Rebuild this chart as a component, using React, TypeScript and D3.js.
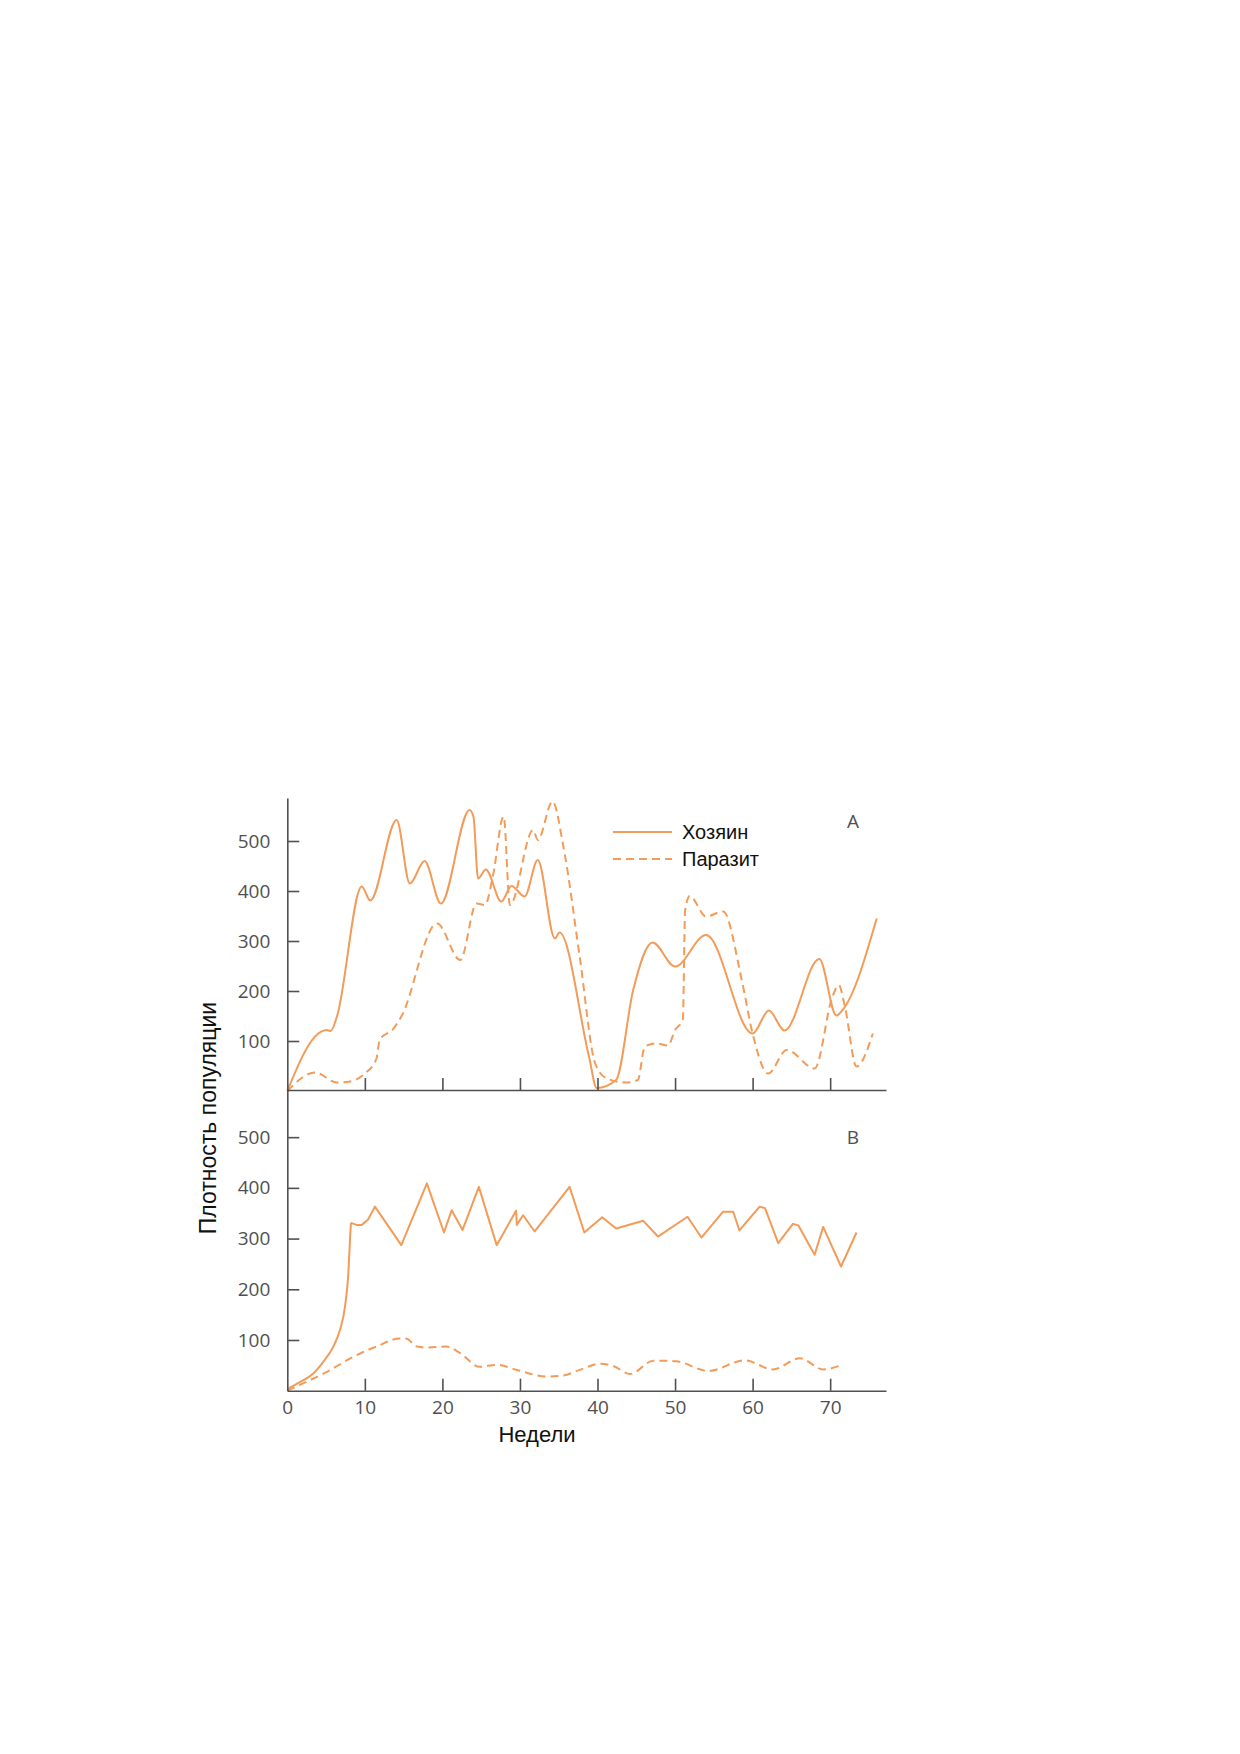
import { useEffect, useRef } from "react";
import * as d3 from "d3";

// Panel A (unstable system)
const hostAWeeks = [0, 4, 5.1, 5.6, 6.4, 9.6, 10.7, 14.1, 15.8, 17.7, 19.8, 23.5, 24.0, 24.6, 25.6, 27.6, 28.9, 30.6, 32.3, 34.5, 35.1, 38.9, 39.9, 42.4, 44.6, 47.1, 50, 54, 60, 62.1, 64.1, 68.6, 70.8, 71.6, 76];
const hostAValues = [0, 115, 122, 120, 149, 409, 381, 542, 415, 460, 375, 562, 549, 425, 443, 379, 410, 389, 462, 305, 317, 69, 6, 22, 202, 297, 249, 312, 115, 161, 121, 264, 151, 162, 345];

const parasiteAWeeks = [0, 3.6, 6.4, 8.1, 10, 11.5, 11.9, 13.7, 14.7, 19.3, 22.3, 24.4, 25.5, 26.5, 27.9, 28.7, 31.7, 32.3, 34.2, 35.6, 37.7, 39.7, 41.2, 43.7, 45.2, 46.1, 47.6, 49.1, 50, 51, 51.3, 51.9, 54, 56.2, 58.6, 60, 62, 64.4, 68, 70.3, 71.1, 71.9, 73.4, 75.5];
const parasiteAValues = [0, 37, 17, 19, 35, 65, 102, 125, 149, 335, 262, 375, 372, 429, 549, 372, 522, 502, 579, 489, 269, 55, 25, 17, 22, 89, 95, 91, 122, 142, 362, 390, 349, 359, 222, 115, 35, 82, 45, 189, 212, 169, 49, 115];

// Panel B (stable system): smooth early growth, then jagged plateau
const hostBRiseWeeks = [0, 1.5, 3.35, 4.64, 5.93, 6.8, 7.44, 7.87, 8.08, 8.2];
const hostBRiseValues = [3, 16, 34, 57, 87, 120, 166, 231, 297, 331];
const hostBWeeks = [8.2, 8.94, 9.6, 10.4, 11.3, 14.7, 18, 20.2, 21.2, 22.6, 24.7, 27, 29.5, 29.6, 30.4, 31.9, 36.4, 38.3, 40.6, 42.4, 45.9, 47.8, 51.6, 53.4, 56.2, 57.5, 58.3, 60.9, 61.6, 63.3, 65.2, 65.9, 68, 69.1, 71.4, 73.4];
const hostBValues = [331, 327, 327, 337, 363, 287, 409, 312, 356, 317, 402, 287, 355, 327, 346, 314, 402, 312, 342, 320, 335, 304, 343, 302, 353, 353, 316, 363, 360, 291, 329, 326, 268, 323, 245, 312];

const parasiteBWeeks = [0, 2.1, 5.1, 8.5, 11.5, 14.5, 15.3, 16.7, 18, 20.5, 22.3, 24.8, 27, 29.6, 33.4, 35.6, 37.7, 40.3, 42, 44.2, 47.2, 48.9, 50.2, 54.3, 59, 62.6, 66.1, 69.1, 71.2];
const parasiteBValues = [0, 15, 37, 67, 87, 103, 103, 87, 85, 87, 74, 47, 51, 41, 28, 30, 41, 53, 49, 33, 59, 59, 58, 39, 60, 42, 64, 42, 49];

const xTicks = [0, 10, 20, 30, 40, 50, 60, 70];
const yTicks = [100, 200, 300, 400, 500];
const legendLabels = ["Хозяин", "Паразит"];

const ORANGE = "#f39b58";
const AXIS = "#505050";
const SANS = "'Liberation Sans', Arial, sans-serif";

export default function App() {
  const svgRef = useRef<SVGSVGElement>(null);

  useEffect(() => {
    const svg = svgRef.current;
    if (!svg) return;
    const sel = d3.select(svg);
    sel.selectAll("*").remove();

    const x = d3.scaleLinear().domain([0, 77.2]).range([287.3, 886]);
    const yA = d3.scaleLinear().domain([0, 586]).range([1091, 798]);
    const yB = d3.scaleLinear().domain([0, 593]).range([1390.7, 1090]);

    const drawLine = (
      weeks: number[],
      values: number[],
      y: d3.ScaleLinear<number, number>,
      dashed: boolean,
      curve: d3.CurveFactory
    ) => {
      const pts = weeks.map((w, i) => [w, values[i]] as [number, number]);
      const line = d3
        .line<[number, number]>()
        .x((d) => x(d[0]))
        .y((d) => y(d[1]))
        .curve(curve);
      sel
        .append("path")
        .attr("d", line(pts))
        .attr("fill", "none")
        .attr("stroke", ORANGE)
        .attr("stroke-width", 2)
        .attr("stroke-linejoin", "round")
        .attr("stroke-dasharray", dashed ? "8,5" : null);
    };

    drawLine(hostAWeeks, hostAValues, yA, false, d3.curveMonotoneX);
    drawLine(parasiteAWeeks, parasiteAValues, yA, true, d3.curveMonotoneX);
    drawLine(hostBRiseWeeks, hostBRiseValues, yB, false, d3.curveMonotoneX);
    drawLine(hostBWeeks, hostBValues, yB, false, d3.curveLinear);
    drawLine(parasiteBWeeks, parasiteBValues, yB, true, d3.curveMonotoneX);

    const styleAxis = (g: d3.Selection<SVGGElement, unknown, null, undefined>) => {
      g.selectAll("path, line").attr("stroke", AXIS).attr("stroke-width", 1.6);
      g.selectAll("text")
        .attr("fill", AXIS)
        .attr("font-family", "'Open Sans', sans-serif")
        .attr("font-size", 19);
    };

    // y axes
    [yA, yB].forEach((y) => {
      const g = sel
        .append("g")
        .attr("transform", `translate(${x(0)},0)`)
        .call(
          d3
            .axisLeft(y)
            .tickValues(yTicks)
            .tickSizeInner(-12)
            .tickSizeOuter(0)
            .tickPadding(17)
        );
      styleAxis(g);
    });

    // x axis of panel A (no labels)
    const gxA = sel
      .append("g")
      .attr("transform", `translate(0,${yA(0) - 1})`)
      .call(
        d3
          .axisBottom(x)
          .tickValues(xTicks.filter((t) => t > 0))
          .tickFormat(() => "")
          .tickSizeInner(-12)
          .tickSizeOuter(0)
      );
    styleAxis(gxA);

    // x axis of panel B
    const gxB = sel
      .append("g")
      .attr("transform", `translate(0,${yB(0)})`)
      .call(
        d3
          .axisBottom(x)
          .tickValues(xTicks)
          .tickFormat(d3.format("d"))
          .tickSizeInner(-12)
          .tickSizeOuter(0)
          .tickPadding(10)
      );
    styleAxis(gxB);
    gxB.selectAll(".tick").filter((d) => d === 0).select("line").remove();

    // panel letters
    [
      ["A", yA(540)],
      ["B", yB(500)],
    ].forEach(([letter, ly]) => {
      sel
        .append("text")
        .attr("x", 853)
        .attr("y", ly as number)
        .attr("text-anchor", "middle")
        .attr("dominant-baseline", "central")
        .attr("fill", AXIS)
        .attr("font-family", "'Open Sans', sans-serif")
        .attr("font-size", 19)
        .text(letter as string);
    });

    // legend
    const legend = sel.append("g").attr("transform", "translate(613,832)");
    legendLabels.forEach((label, i) => {
      const row = legend.append("g").attr("transform", `translate(0,${i * 27})`);
      row
        .append("line")
        .attr("x1", 0)
        .attr("x2", 59)
        .attr("stroke", ORANGE)
        .attr("stroke-width", 2)
        .attr("stroke-dasharray", i === 1 ? "8,5" : null);
      row
        .append("text")
        .attr("x", 69)
        .attr("dominant-baseline", "central")
        .attr("font-family", SANS)
        .attr("font-size", 20)
        .attr("fill", "#111")
        .text(label);
    });

    // axis titles
    sel
      .append("text")
      .attr("x", 537)
      .attr("y", 1442)
      .attr("text-anchor", "middle")
      .attr("font-family", SANS)
      .attr("font-size", 22)
      .attr("fill", "#111")
      .text("Недели");
    sel
      .append("text")
      .attr("transform", "translate(208,1118) rotate(-90)")
      .attr("text-anchor", "middle")
      .attr("dominant-baseline", "central")
      .attr("font-family", SANS)
      .attr("font-size", 23)
      .attr("fill", "#111")
      .text("Плотность популяции");
  }, []);

  return (
    <svg
      ref={svgRef}
      width={1240}
      height={1754}
      style={{ position: "absolute", left: 0, top: 0, background: "#fff" }}
    />
  );
}
